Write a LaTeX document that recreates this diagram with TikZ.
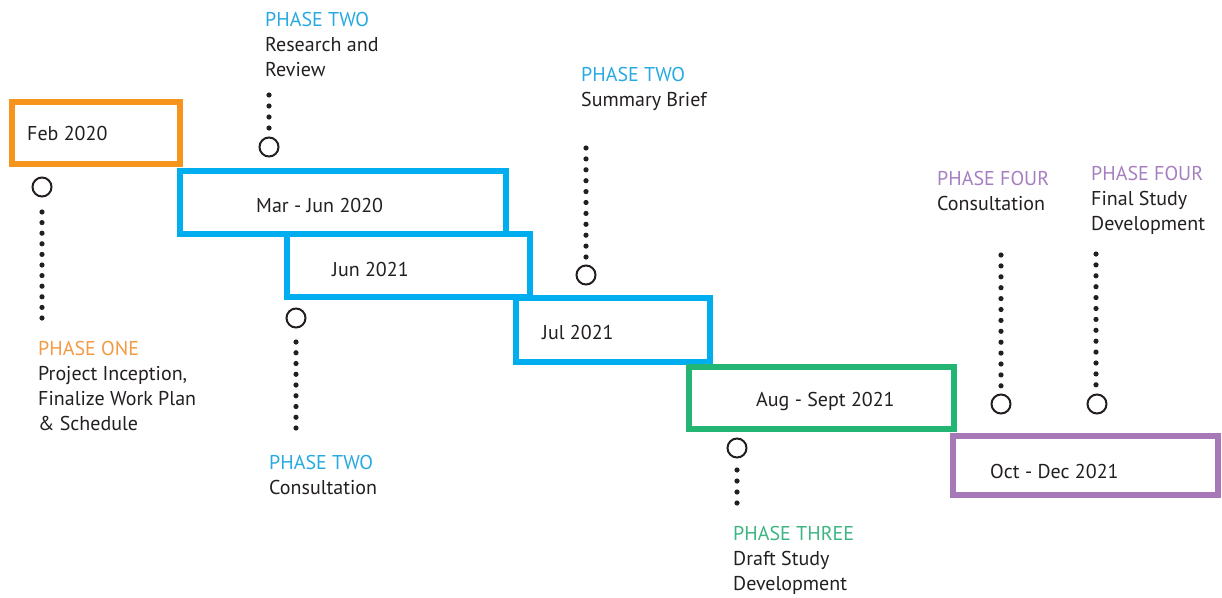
\documentclass[tikz,border=0pt]{standalone}
\usepackage{fontspec}
\setmainfont{PT Sans}
\definecolor{ink}{HTML}{231F20}
\definecolor{orangebox}{HTML}{F7941D}
\definecolor{bluebox}{HTML}{00AEEF}
\definecolor{greenbox}{HTML}{22B573}
\definecolor{purplebox}{HTML}{A678B8}
\definecolor{phone}{HTML}{F39A45}
\definecolor{phtwo}{HTML}{27AAE1}
\definecolor{phthree}{HTML}{3DB582}
\definecolor{phfour}{HTML}{A57FC0}
\newcommand{\tlfont}{\fontsize{20}{25}\selectfont}
\begin{document}
\begin{tikzpicture}[x=1pt,y=-1pt,
  box/.style={draw=#1, line width=6pt, inner sep=0pt, fill=none},
  ring/.style={circle, draw=ink, line width=2pt, minimum size=19pt, inner sep=0pt},
  dotline/.style={draw=ink, line width=5.2pt, line cap=round, dash pattern=on 0pt off #1},
  lbl/.style={anchor=base west, inner sep=0pt, align=left, font=\tlfont, text=ink}]
\useasboundingbox (0,0) rectangle (1222,597);

% boxes
\node[box=bluebox, minimum width=243pt, minimum height=63.5pt] (b3) at (408.5,265.25) {};
\node[box=bluebox, minimum width=326pt, minimum height=63pt] (b2) at (343,202) {};
\node[box=bluebox, minimum width=194.5pt, minimum height=63.5pt] (b4) at (612.75,329.75) {};
\node[box=orangebox, minimum width=167.5pt, minimum height=61.5pt] (b1) at (95.75,132.75) {};
\node[box=greenbox, minimum width=265pt, minimum height=61.5pt] (b5) at (821.5,397.75) {};
\node[box=purplebox, minimum width=265pt, minimum height=59pt] (b6) at (1085.5,465.5) {};

% dates
\node[lbl] (t1) at (27,140) {Feb 2020};
\node[lbl] (t2) at (256,212) {Mar - Jun 2020};
\node[lbl] (t3) at (332,276) {Jun 2021};
\node[lbl] (t4) at (542,339) {Jul 2021};
\node[lbl] (t5) at (756,406) {Aug - Sept 2021};
\node[lbl] (t6) at (990,478) {Oct - Dec 2021};

% rings
\node[ring] (c1) at (42,187) {};
\node[ring] (c2) at (269,147) {};
\node[ring] (c3) at (296,318) {};
\node[ring] (c4) at (586,275) {};
\node[ring] (c5) at (737,448) {};
\node[ring] (c6) at (1001,404) {};
\node[ring] (c7) at (1097,404) {};

% dotted leaders
\coordinate (d1s) at (42,212);   \coordinate (d1e) at (42,319);
\coordinate (d2s) at (269,95);   \coordinate (d2e) at (269,129);
\coordinate (d3s) at (296,342);  \coordinate (d3e) at (296,429);
\coordinate (d4s) at (586,148);  \coordinate (d4e) at (586,258);
\coordinate (d5s) at (737,470);  \coordinate (d5e) at (737,504);
\coordinate (d6s) at (1001,255); \coordinate (d6e) at (1001,387);
\coordinate (d7s) at (1096,254); \coordinate (d7e) at (1096,386);
\draw[dotline=10.6pt] (d1s) -- (d1e);
\draw[dotline=11pt] (d2s) -- (d2e);
\draw[dotline=10.75pt] (d3s) -- (d3e);
\draw[dotline=10.9pt] (d4s) -- (d4e);
\draw[dotline=11pt] (d5s) -- (d5e);
\draw[dotline=10.9pt] (d6s) -- (d6e);
\draw[dotline=10.9pt] (d7s) -- (d7e);

% phase labels (anchored at the baseline of their last line)
\node[lbl] (p1) at (38,430) {\textcolor{phone}{PHASE ONE}\\Project Inception,\\Finalize Work Plan\\\& Schedule};
\node[lbl] (p2) at (265,76) {\textcolor{phtwo}{PHASE TWO}\\Research and\\Review};
\node[lbl] (p3) at (269,494) {\textcolor{phtwo}{PHASE TWO}\\Consultation};
\node[lbl] (p4) at (581,106) {\textcolor{phtwo}{PHASE TWO}\\Summary Brief};
\node[lbl] (p5) at (733,590) {\textcolor{phthree}{PHASE THREE}\\Draft Study\\Development};
\node[lbl] (p6) at (937,210) {\textcolor{phfour}{PHASE FOUR}\\Consultation};
\node[lbl] (p7) at (1091,230) {\textcolor{phfour}{PHASE FOUR}\\Final Study\\Development};
\end{tikzpicture}
\end{document}
